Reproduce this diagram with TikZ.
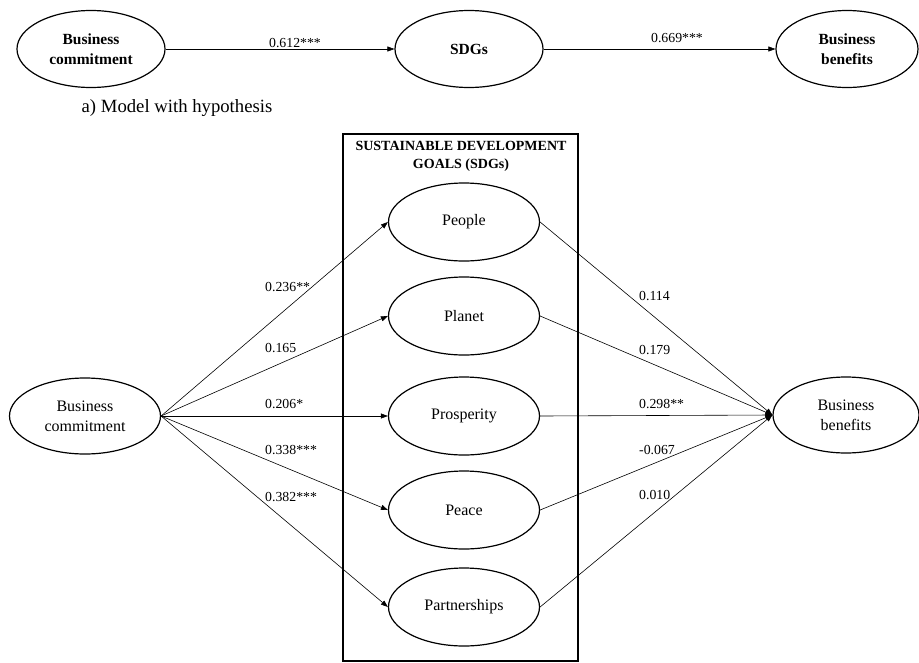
\documentclass[tikz,border=0pt]{standalone}
\usepackage{fontspec}
\setmainfont{Liberation Serif}
\usetikzlibrary{arrows.meta,shapes.geometric}

\tikzset{
	construct/.style={ellipse, draw, line width=1.2pt, minimum width=151pt, minimum height=78pt, inner sep=0pt, align=center, font=\fontsize{16}{20}\selectfont},
	topconstruct/.style={construct, minimum width=148pt, minimum height=77pt, font=\fontsize{15.5}{20}\selectfont\bfseries},
	coef/.style={-{Triangle[length=7pt,width=5pt]}, line width=0.6pt},
	coeflabel/.style={font=\fontsize{13.8}{16}\selectfont, inner sep=0pt}
}

\begin{document}
\begin{tikzpicture}[x=1pt, y=-1pt]
	\useasboundingbox (0,0) rectangle (919,662);
	% a) model with hypothesis
	\node[topconstruct] (bctop) at (91,49) {Business\\commitment};
	\node[topconstruct] (sdgs) at (469,49) {SDGs};
	\node[topconstruct, minimum width=142pt] (bbtop) at (847,49) {Business\\benefits};
	\draw[coef] (bctop) -- (sdgs);
	\draw[coef] (sdgs) -- (bbtop);
	\node[coeflabel] (h1) at (295,43) {0.612***};
	\node[coeflabel] (h2) at (677,38) {0.669***};
	\node[font=\fontsize{18.7}{22}\selectfont, inner sep=0pt] (capa) at (177,108) {a) Model with hypothesis};
	% dimensions of the SDGs
	\draw[line width=1.2pt] (343,134) rectangle (578,661);
	\node[align=center, inner sep=0pt, font=\fontsize{14}{18}\selectfont\bfseries] (sdgtitle) at (461,156) {SUSTAINABLE DEVELOPMENT\\GOALS (SDGs)};
	\node[construct, minimum height=76pt] (bc) at (85,416) {Business\\commitment};
	\node[construct, minimum width=146pt, minimum height=76pt] (bb) at (846,415) {Business\\benefits};
	\foreach \n/\y/\l/\ly/\r/\ry in {People/222/0.236**/287/0.114/296, Planet/316/0.165/348/0.179/350, Prosperity/416/0.206*/404/0.298**/404, Peace/510/0.338***/450/-0.067/450, Partnerships/607/0.382***/497/0.010/495} {
		\node[construct] (\n) at (464,\y) {\n};
		\draw[coef] (bc.east) -- (\n.west);
		\draw[coef] (\n.east) -- (bb.west);
		\node[coeflabel, anchor=west] (l\n) at (265,\ly) {\l};
		\node[coeflabel, anchor=west] (r\n) at (639,\ry) {\r};
	}
\end{tikzpicture}
\end{document}
